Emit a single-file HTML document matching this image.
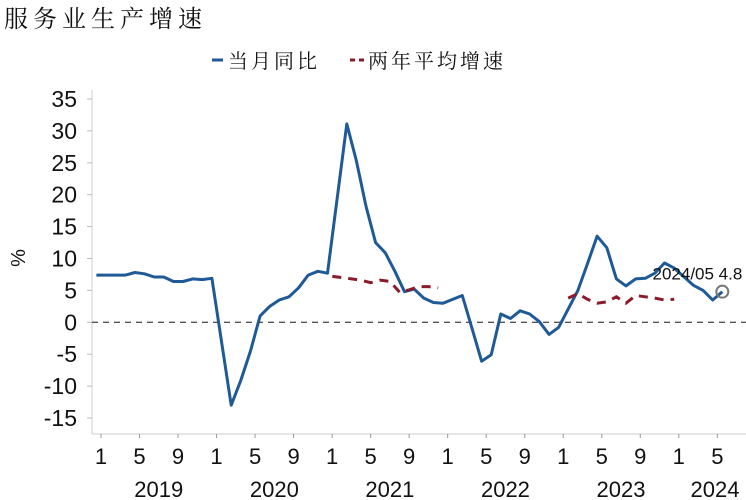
<!DOCTYPE html>
<html><head><meta charset="utf-8"><style>
body{margin:0;background:#fff;}
svg{display:block;font-family:"Liberation Sans","Noto Sans CJK SC",sans-serif;}
.cjk{font-family:"Liberation Serif","Noto Serif CJK SC",serif;}
</style></head><body>
<svg id="chart" width="746" height="500" viewBox="0 0 746 500">
<text class="cjk" x="4" y="27" font-size="24" letter-spacing="5" fill="#111">服务业生产增速</text>
<g>
<line x1="212" y1="60" x2="223" y2="60" stroke="#1f5a96" stroke-width="3"/>
<text class="cjk" x="228" y="68" font-size="20" letter-spacing="3" fill="#111">当月同比</text>
<line x1="350" y1="60" x2="366" y2="60" stroke="#8b1a2a" stroke-width="3" stroke-dasharray="5,4"/>
<text class="cjk" x="368" y="68" font-size="20" letter-spacing="3" fill="#111">两年平均增速</text>
</g>
<text x="0" y="0" font-size="20" fill="#111" transform="translate(25,258) rotate(-90)" text-anchor="middle">%</text>
<g id="axes"></g>
<g id="marks"></g>
</svg>
<script>
const yTicks=[35,30,25,20,15,10,5,0,-5,-10,-15];
const monthLabels=["1","5","9","1","5","9","1","5","9","1","5","9","1","5","9","1","5"];
const years=["2019","2020","2021","2022","2023","2024"];
// monthly values from Dec 2018 (index -1) to May 2024 (index 64); null = Jan (combined with Feb)
const monthly=[7.4,
null,7.4,7.4,7.8,7.6,7.1,7.1,6.4,6.4,6.8,6.7,6.9,
null,-13.0,-9.1,-4.5,1.0,2.5,3.5,4.0,5.4,7.4,8.0,7.7,
null,31.1,25.3,18.2,12.5,10.9,8.0,4.8,5.2,3.8,3.1,3.0,
null,4.2,-0.9,-6.1,-5.1,1.3,0.6,1.8,1.3,0.1,-1.9,-0.8,
null,5.0,9.2,13.5,11.7,6.8,5.7,6.8,6.9,7.7,9.3,8.5,
null,5.8,5.0,3.5,4.8];
const twoYear2021=[7.2,7.0,6.8,6.6,6.2,6.6,6.4,4.7,5.1,5.6,5.6,5.4];
const twoYear2023=[3.8,4.5,3.6,3.0,3.2,4.0,3.0,4.2,4.0,3.8,3.5,3.6];
const lastLabel="2024/05 4.8";

const NS="http://www.w3.org/2000/svg";
const X0=106, STEP=9.63;
const xOf=i=>X0+i*STEP;
const yOf=v=>322.3-v*6.38;
function mk(tag,attrs,parent){const e=document.createElementNS(NS,tag);for(const k in attrs)e.setAttribute(k,attrs[k]);parent.appendChild(e);return e;}
const axes=document.getElementById('axes'), marks=document.getElementById('marks');

let yl=mk('line',{x1:92,y1:90,x2:92,y2:434,stroke:'#ccc','stroke-width':1},axes);


yTicks.forEach(v=>{
  const t=mk('line',{x1:87,x2:92,y1:yOf(v),y2:yOf(v),stroke:'#bbb'},axes);
  
  
  const tx=mk('text',{x:77,y:yOf(v)+8,'font-size':23,'text-anchor':'end',fill:'#111'},axes);
  tx.textContent=v;
  
  
});
let xl=mk('line',{x1:92,y1:434,x2:746,y2:434,stroke:'#ccc'},axes);


monthLabels.forEach((m,k)=>{
  const x=101+k*4*STEP;
  const t=mk('line',{x1:x,x2:x,y1:434,y2:438,stroke:'#999'},axes);
  
  
  const tx=mk('text',{x:x,y:464,'font-size':22,'text-anchor':'middle',fill:'#111'},axes);
  tx.textContent=m;
  
  
});
years.forEach((y,k)=>{
  const cx = k===years.length-1 ? 715 : 101+(k*12+6)*STEP;
  const tx=mk('text',{x:cx,y:497,'font-size':22,'text-anchor':'middle',fill:'#111'},axes);
  tx.textContent=y;
  
  
});
let zl=mk('line',{x1:92,x2:746,y1:yOf(0),y2:yOf(0),stroke:'#555','stroke-width':1.3,'stroke-dasharray':'6,5'},axes);



let pts=[];
monthly.forEach((v,k)=>{ if(v!==null) pts.push(xOf(k-1).toFixed(1)+','+yOf(v).toFixed(1)); });
let ml=mk('polyline',{points:pts.join(' '),fill:'none',stroke:'#1f5a96','stroke-width':3,'stroke-linejoin':'round'},marks);



function dashed(arr,start,name){
  const p=arr.map((v,k)=>xOf(start+k).toFixed(1)+','+yOf(v).toFixed(1)).join(' ');
  const l=mk('polyline',{points:p,fill:'none',stroke:'#8b1a2a','stroke-width':3,'stroke-dasharray':'9,7'},marks);
  
  
}
dashed(twoYear2021,23.5,'two-year-avg-2021-line');
dashed(twoYear2023,48,'two-year-avg-2023-line');

const lastV=monthly[monthly.length-1], lastX=xOf(monthly.length-2);
let c=mk('circle',{cx:lastX,cy:yOf(lastV),r:6,fill:'none',stroke:'#777','stroke-width':2},marks);


let lt=mk('text',{x:lastX+20,y:yOf(lastV)-12,'font-size':17,'text-anchor':'end',fill:'#111'},marks);
lt.textContent=lastLabel;


</script>
</body></html>
